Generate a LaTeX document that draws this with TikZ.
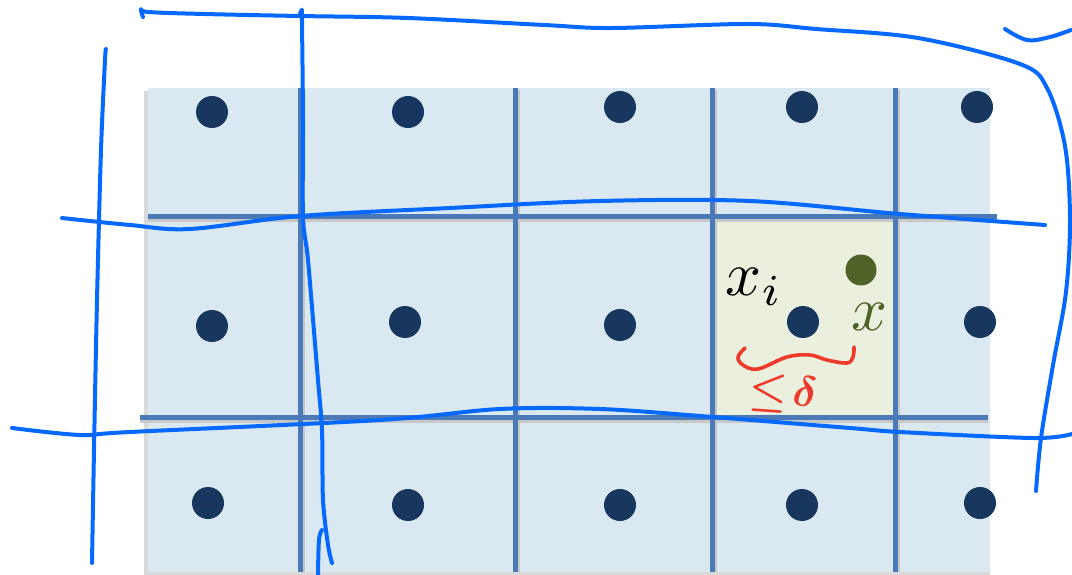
\documentclass[tikz,border=0pt]{standalone}
\usepackage{amssymb}
\usepackage{bm}
\definecolor{cellfill}{RGB}{218,233,241}
\definecolor{hlfill}{RGB}{234,240,221}
\definecolor{gridc}{RGB}{74,122,184}
\definecolor{dotc}{RGB}{23,55,94}
\definecolor{greenc}{RGB}{79,98,40}
\definecolor{penc}{RGB}{5,105,255}
\definecolor{redc}{RGB}{238,58,42}
\tikzset{
  dot/.style={circle,fill=dotc,inner sep=0pt,minimum size=32pt},
  gdot/.style={circle,fill=greenc,inner sep=0pt,minimum size=31pt},
  gridline/.style={draw=gridc,line width=5pt},
  gridshadow/.style={draw=black!22,line width=5pt},
  pen/.style={draw=penc,line width=4pt,line cap=round,line join=round},
  redpen/.style={draw=redc,line width=3.6pt,line cap=round,line join=round},
  biglabel/.style={inner sep=0pt,scale=6.3},
}
\begin{document}
\begin{tikzpicture}[x=1pt,y=-1pt]
\useasboundingbox (0,0) rectangle (1072,575);
% board with shadow
\fill[black!15] (144,91) rectangle (990,575);
\fill[cellfill] (148,88) rectangle (990,572);
\fill[hlfill] (712,217) rectangle (895,417);
% grid line shadows
\foreach \x in {300,515,712,895} \draw[gridshadow] (\x+2,90) -- (\x+2,572);
\draw[gridshadow] (148,220) -- (997,220);
\draw[gridshadow] (140,420) -- (988,420);
% grid lines
\foreach \x in {300,515,712,895} \draw[gridline] (\x,88) -- (\x,572);
\draw[gridline] (148,217) -- (997,217);
\draw[gridline] (140,417) -- (988,417);
% dots
\node[dot] (d11) at (212,112) {};
\node[dot] (d12) at (408,112) {};
\node[dot] (d13) at (620,107) {};
\node[dot] (d14) at (802,107) {};
\node[dot] (d15) at (977,107) {};
\node[dot] (d21) at (212,326) {};
\node[dot] (d22) at (405,322) {};
\node[dot] (d23) at (620,325) {};
\node[dot] (d24) at (803,322) {};
\node[dot] (d25) at (980,322) {};
\node[dot] (d31) at (208,503) {};
\node[dot] (d32) at (408,505) {};
\node[dot] (d33) at (620,505) {};
\node[dot] (d34) at (802,505) {};
\node[dot] (d35) at (980,503) {};
\node[gdot] (gx) at (861,270) {};
% labels
\node[biglabel,text=black] (xi) at (754,287) {$x_i$};
\node[biglabel,text=greenc] (xl) at (869,317) {$x$};
\node[inner sep=0pt,scale=4.3,text=redc,rotate=-4] (le) at (783,394) {$\bm{\leq}\!\bm{\delta}$};
% red brace
\draw[redpen] plot[smooth,tension=0.6] coordinates {(745,348) (738,357) (743,365) (758,369) (787,357) (810,355) (827,360) (847,363) (853,357) (854,347)};
% hand-drawn blue lines
\draw[pen] plot[smooth,tension=0.55] coordinates {(143,17) (141,9) (148,12) (204,14) (299,16) (408,18) (544,25) (612,28) (748,24) (816,29) (918,38) (1020,64) (1047,88) (1065,146) (1070,219) (1066,292) (1053,365) (1041,438) (1036,491)};
\draw[pen] plot[smooth,tension=0.6] coordinates {(1005,29) (1027,40) (1050,37) (1071,30)};
\draw[pen] plot[smooth,tension=0.5] coordinates {(106,49) (105,60) (101,150) (97,300) (94,450) (92,563)};
\draw[pen] plot[smooth,tension=0.5] coordinates {(300,14) (302,10) (302,20) (303,120) (303,217) (308,260) (318,380) (322,430) (323,500) (328,545) (332,563)};
\draw[pen] plot[smooth,tension=0.6] coordinates {(322,530) (319,540) (318,575)};
\draw[pen] plot[smooth,tension=0.55] coordinates {(62,218) (130,225) (190,229) (300,216) (450,208) (600,201) (750,201) (900,214) (1045,225)};
\draw[pen] plot[smooth,tension=0.55] coordinates {(12,428) (80,435) (130,432) (380,420) (500,409) (600,409) (700,416) (850,428) (900,432) (1033,438) (1072,434)};
\end{tikzpicture}
\end{document}
